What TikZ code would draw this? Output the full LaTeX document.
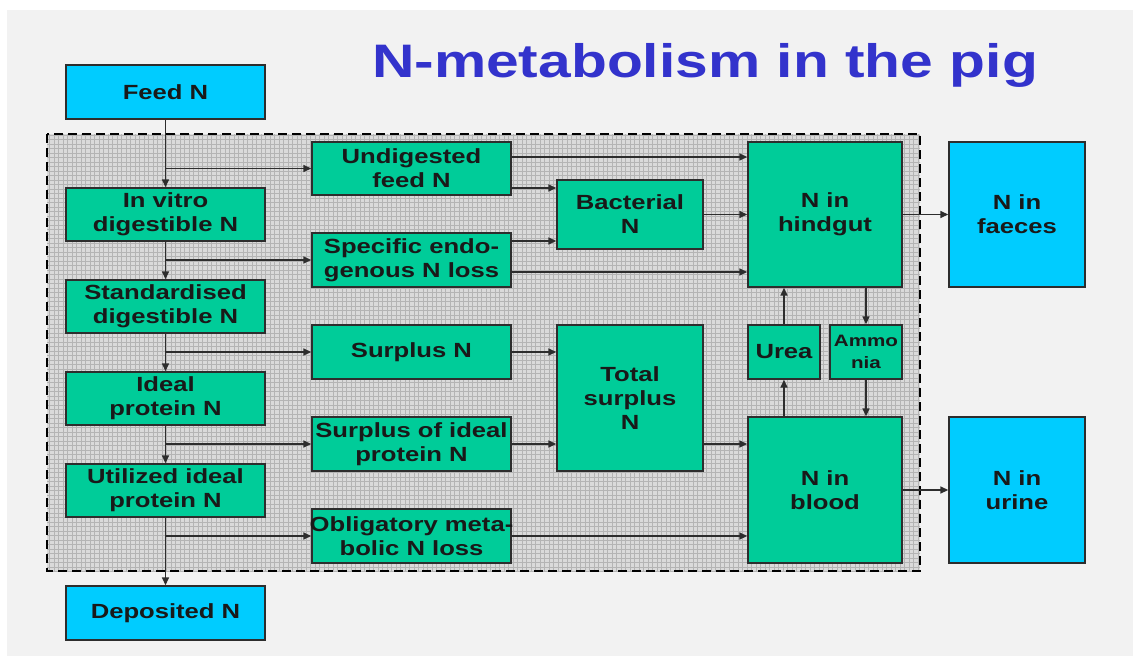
\documentclass[tikz,border=0pt]{standalone}
\usepackage{fontspec}
\setmainfont{Liberation Sans}[FakeStretch=1.25]
\usetikzlibrary{arrows.meta,calc}
\definecolor{bggray}{RGB}{242,242,242}
\definecolor{gridfill}{RGB}{218,218,218}
\definecolor{gridline}{RGB}{180,180,180}
\definecolor{boxgreen}{RGB}{0,204,153}
\definecolor{boxcyan}{RGB}{0,204,255}
\definecolor{edgegray}{RGB}{45,45,45}
\definecolor{titleblue}{RGB}{51,51,204}
\tikzset{
  box/.style={draw=edgegray, line width=1.4pt, inner sep=0pt, align=center,
    font=\bfseries\fontsize{20.5}{24}\selectfont, text=black!90},
  gbox/.style={box, fill=boxgreen},
  cbox/.style={box, fill=boxcyan},
  arr/.style={draw=edgegray, line width=1.5pt, -{Triangle[length=8pt,width=7pt]}},
}
\newcommand{\bx}[7]{\node[#1, minimum width=#4pt, minimum height=#5pt] (#2) at (#3) {#7};}
\begin{document}
\begin{tikzpicture}[x=1pt,y=-1pt]
\useasboundingbox (0,0) rectangle (1133,656);
\fill[white] (0,0) rectangle (1133,656);
\fill[bggray] (7,10) rectangle (1133,656);
% title
\node[anchor=base, text=titleblue, font=\bfseries\fontsize{47}{50}\selectfont, inner sep=0pt] (title) at (705,77) {N-metabolism in the pig};
% grid area
\begin{scope}
  \clip (47,134) rectangle (920,571);
  \fill[gridfill] (47,134) rectangle (920,571);
  \draw[gridline, line width=0.45pt, step=4.5pt] (40,130) grid (925,575);
\end{scope}
\draw[black, line width=2.6pt, dash pattern=on 9pt off 5pt] (47,134) rectangle (920,571);
% left column
\bx{cbox}{feed}{165.5,92}{199}{54}{}{Feed N}
\bx{gbox}{invitro}{165.5,214.5}{199}{53}{}{In vitro\\digestible N}
\bx{gbox}{stand}{165.5,306.5}{199}{53}{}{Standardised\\digestible N}
\bx{gbox}{ideal}{165.5,398.5}{199}{53}{}{Ideal\\protein N}
\bx{gbox}{util}{165.5,490.5}{199}{53}{}{Utilized ideal\\protein N}
\bx{cbox}{dep}{165.5,613}{199}{54}{}{Deposited N}
% second column
\bx{gbox}{undig}{411.5,168.5}{199}{53}{}{Undigested\\feed N}
\bx{gbox}{spec}{411.5,260}{199}{54}{}{Specific endo-\\genous N loss}
\bx{gbox}{surplus}{411.5,352}{199}{54}{}{Surplus N}
\bx{gbox}{surpideal}{411.5,444}{199}{54}{}{\makebox[190pt]{Surplus of ideal}\\protein N}
\bx{gbox}{oblig}{411.5,536}{199}{54}{}{\makebox[190pt]{Obligatory meta-}\\bolic N loss}
% third column
\bx{gbox}{bact}{630,214.5}{146}{69}{}{Bacterial\\N}
\bx{gbox}{total}{630,398}{146}{146}{}{Total\\surplus\\N}
% fourth column
\bx{gbox}{hindgut}{825,214.5}{154}{145}{}{N in\\hindgut}
\bx{gbox}{urea}{784,352}{72}{54}{}{Urea}
\node[gbox, minimum width=72pt, minimum height=54pt, font=\bfseries\fontsize{16.5}{22}\selectfont] (ammonia) at (866,352) {Ammo\\nia};
\bx{gbox}{blood}{825,490}{154}{146}{}{N in\\blood}
% outputs
\bx{cbox}{faeces}{1017,214.5}{136}{145}{}{N in\\faeces}
\bx{cbox}{urine}{1017,490}{136}{146}{}{N in\\urine}
% spine
\draw[arr] (feed) -- (invitro);
\draw[arr] (feed.south |- undig.west) -- (undig.west);
\draw[arr] (invitro) -- (stand);
\draw[arr] (invitro.south |- spec.west) -- (spec.west);
\draw[arr] (stand) -- (ideal);
\draw[arr] (stand.south |- surplus.west) -- (surplus.west);
\draw[arr] (ideal) -- (util);
\draw[arr] (ideal.south |- surpideal.west) -- (surpideal.west);
\draw[arr] (util) -- (dep);
\draw[arr] (util.south |- oblig.west) -- (oblig.west);
% hindgut inputs
\coordinate (u1) at ([yshift=11.5pt]undig.east);
\coordinate (u2) at ([yshift=-19.5pt]undig.east);
\coordinate (s1) at ([yshift=19pt]spec.east);
\coordinate (s2) at ([yshift=-12pt]spec.east);
\draw[arr] (u1) -- (u1 -| hindgut.west);
\draw[arr] (u2) -- (u2 -| bact.west);
\draw[arr] (s1) -- (s1 -| bact.west);
\draw[arr] (s2) -- (s2 -| hindgut.west);
\draw[arr] (bact.east) -- (bact.east -| hindgut.west);
\draw[arr] (hindgut.east) -- (faeces.west);
% surplus
\draw[arr] (surplus.east) -- (surplus.east -| total.west);
\draw[arr] (surpideal.east) -- (surpideal.east -| total.west);
\coordinate (t1) at (total.east |- surpideal.east);
\draw[arr] (t1) -- (t1 -| blood.west);
\draw[arr] (oblig.east) -- (oblig.east -| blood.west);
\draw[arr] (blood.east) -- (urine.west);
% urea / ammonia cycle
\draw[arr] (urea.north) -- (urea.north |- hindgut.south);
\draw[arr] (urea.south |- blood.north) -- (urea.south);
\draw[arr] (ammonia.north |- hindgut.south) -- (ammonia.north);
\draw[arr] (ammonia.south) -- (ammonia.south |- blood.north);
\end{tikzpicture}
\end{document}
